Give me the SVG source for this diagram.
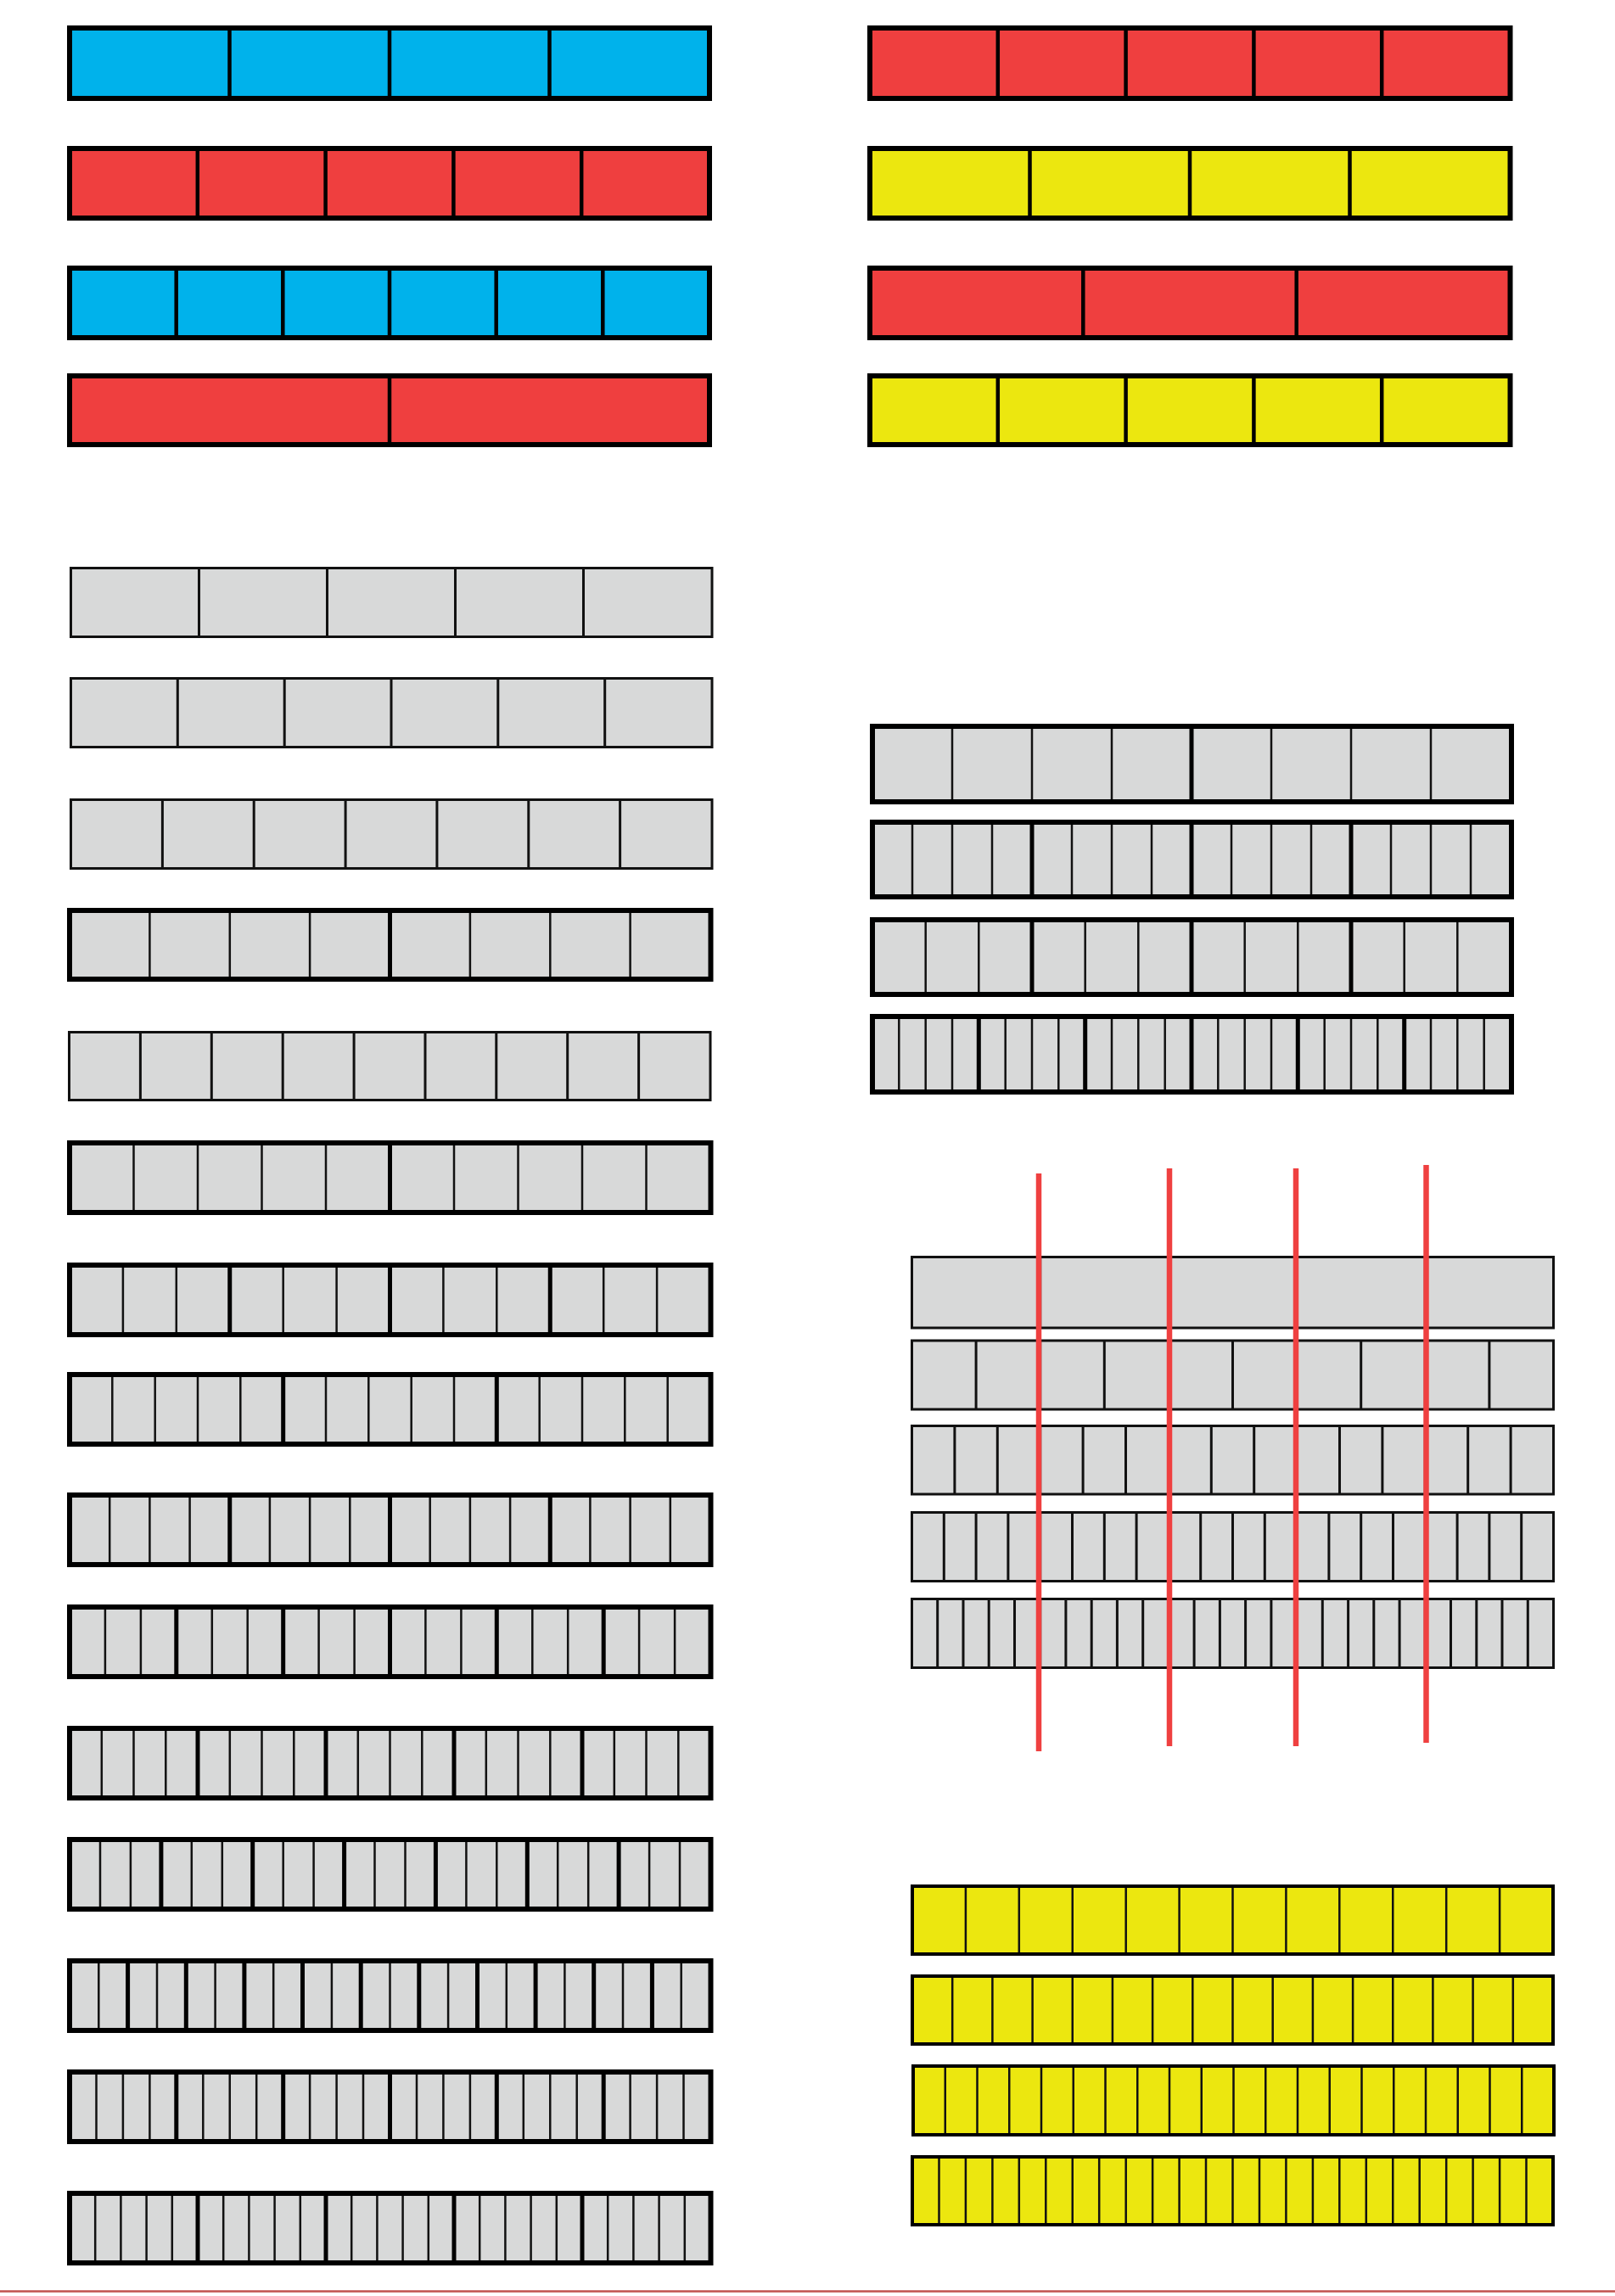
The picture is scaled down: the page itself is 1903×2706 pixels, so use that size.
<svg xmlns="http://www.w3.org/2000/svg" width="1903" height="2706" viewBox="0 0 1903 2706">
<style>
.blue{fill:#00B2EB}.red{fill:#EF3F3F}.yel{fill:#ECE70F}.gray{fill:#D8D9D9}
.bt{fill:none;stroke:#000;stroke-width:6}
.bn{fill:none;stroke:#111;stroke-width:3}
.by{fill:none;stroke:#000;stroke-width:4}
.dc{fill:none;stroke:#000;stroke-width:4.5}
.dt{fill:none;stroke:#111;stroke-width:2.5}
.dk{fill:none;stroke:#000;stroke-width:5}
.dn{fill:none;stroke:#111;stroke-width:3}
.rl{fill:none;stroke:#EF4040;stroke-width:6.5}
</style>
<rect width="1903" height="2706" fill="#fff"/>

<g id="c1"><rect class="blue" x="82" y="33" width="754" height="83"/><path class="dc" d="M270.5 33V116M459 33V116M647.5 33V116"/><rect class="bt" x="82" y="33" width="754" height="83"/></g>
<g id="c2"><rect class="red" x="82" y="175" width="754" height="82"/><path class="dc" d="M232.8 175V257M383.6 175V257M534.4 175V257M685.2 175V257"/><rect class="bt" x="82" y="175" width="754" height="82"/></g>
<g id="c3"><rect class="blue" x="82" y="316" width="754" height="82"/><path class="dc" d="M207.7 316V398M333.3 316V398M459 316V398M584.7 316V398M710.3 316V398"/><rect class="bt" x="82" y="316" width="754" height="82"/></g>
<g id="c4"><rect class="red" x="82" y="443" width="754" height="81"/><path class="dc" d="M459 443V524"/><rect class="bt" x="82" y="443" width="754" height="81"/></g>

<g id="d1"><rect class="red" x="1025" y="33" width="754.5" height="83"/><path class="dc" d="M1175.8 33V116M1326.6 33V116M1477.4 33V116M1628.2 33V116"/><rect class="bt" x="1025" y="33" width="754.5" height="83"/></g>
<g id="d2"><rect class="yel" x="1025" y="175" width="754.5" height="82"/><path class="dc" d="M1213.5 175V257M1402 175V257M1590.5 175V257"/><rect class="bt" x="1025" y="175" width="754.5" height="82"/></g>
<g id="d3"><rect class="red" x="1025" y="316" width="754.5" height="82"/><path class="dc" d="M1276.3 316V398M1527.7 316V398"/><rect class="bt" x="1025" y="316" width="754.5" height="82"/></g>
<g id="d4"><rect class="yel" x="1025" y="443" width="754.5" height="81"/><path class="dc" d="M1175.8 443V524M1326.6 443V524M1477.4 443V524M1628.2 443V524"/><rect class="bt" x="1025" y="443" width="754.5" height="81"/></g>

<g id="g1"><rect class="gray" x="83.5" y="669.5" width="755.5" height="81"/><path class="dn" d="M234.5 669.5V750.5M385.5 669.5V750.5M536.5 669.5V750.5M687.5 669.5V750.5"/><rect class="bn" x="83.5" y="669.5" width="755.5" height="81"/></g>
<g id="g2"><rect class="gray" x="83.5" y="799.5" width="755.5" height="81"/><path class="dn" d="M209.3 799.5V880.5M335.2 799.5V880.5M461 799.5V880.5M586.8 799.5V880.5M712.7 799.5V880.5"/><rect class="bn" x="83.5" y="799.5" width="755.5" height="81"/></g>
<g id="g3"><rect class="gray" x="83.5" y="942.5" width="755.5" height="81"/><path class="dn" d="M191.4 942.5V1023.5M299.2 942.5V1023.5M407.1 942.5V1023.5M514.9 942.5V1023.5M622.8 942.5V1023.5M730.6 942.5V1023.5"/><rect class="bn" x="83.5" y="942.5" width="755.5" height="81"/></g>
<g id="g4"><rect class="gray" x="82" y="1073" width="755.5" height="81"/><path class="dt" d="M176.4 1073V1154M270.8 1073V1154M365.1 1073V1154M553.9 1073V1154M648.3 1073V1154M742.6 1073V1154"/><path class="dk" d="M459.5 1073V1154"/><rect class="bt" x="82" y="1073" width="755.5" height="81"/></g>
<g id="g5"><rect class="gray" x="81.5" y="1216.5" width="755.5" height="80"/><path class="dn" d="M165.4 1216.5V1296.5M249.3 1216.5V1296.5M333.2 1216.5V1296.5M417.1 1216.5V1296.5M501 1216.5V1296.5M584.8 1216.5V1296.5M668.7 1216.5V1296.5M752.6 1216.5V1296.5"/><rect class="bn" x="81.5" y="1216.5" width="755.5" height="80"/></g>
<g id="g6"><rect class="gray" x="82" y="1347" width="755.5" height="82"/><path class="dt" d="M157.5 1347V1429M233 1347V1429M308.5 1347V1429M384 1347V1429M535 1347V1429M610.5 1347V1429M686 1347V1429M761.5 1347V1429"/><path class="dk" d="M459.5 1347V1429"/><rect class="bt" x="82" y="1347" width="755.5" height="82"/></g>
<g id="g7"><rect class="gray" x="82" y="1491" width="755.5" height="82"/><path class="dt" d="M144.9 1491V1573M207.8 1491V1573M333.7 1491V1573M396.6 1491V1573M522.4 1491V1573M585.3 1491V1573M711.2 1491V1573M774.1 1491V1573"/><path class="dk" d="M270.75 1491V1573M459.5 1491V1573M648.25 1491V1573"/><rect class="bt" x="82" y="1491" width="755.5" height="82"/></g>
<g id="g8"><rect class="gray" x="82" y="1620" width="755.5" height="82"/><path class="dt" d="M132.3 1620V1702M182.7 1620V1702M233 1620V1702M283.3 1620V1702M384 1620V1702M434.3 1620V1702M484.7 1620V1702M535 1620V1702M635.7 1620V1702M686 1620V1702M736.3 1620V1702M786.7 1620V1702"/><path class="dk" d="M333.7 1620V1702M585.3 1620V1702"/><rect class="bt" x="82" y="1620" width="755.5" height="82"/></g>
<g id="g9"><rect class="gray" x="82" y="1762" width="755.5" height="82"/><path class="dt" d="M129.2 1762V1844M176.4 1762V1844M223.6 1762V1844M317.9 1762V1844M365.1 1762V1844M412.3 1762V1844M506.7 1762V1844M553.9 1762V1844M601.1 1762V1844M695.4 1762V1844M742.6 1762V1844M789.8 1762V1844"/><path class="dk" d="M270.75 1762V1844M459.5 1762V1844M648.25 1762V1844"/><rect class="bt" x="82" y="1762" width="755.5" height="82"/></g>
<g id="g10"><rect class="gray" x="82" y="1894" width="755.5" height="82"/><path class="dt" d="M123.9 1894V1976M165.9 1894V1976M249.8 1894V1976M291.7 1894V1976M375.6 1894V1976M417.6 1894V1976M501.4 1894V1976M543.4 1894V1976M627.3 1894V1976M669.2 1894V1976M753.1 1894V1976M795.1 1894V1976"/><path class="dk" d="M207.8 1894V1976M333.7 1894V1976M459.5 1894V1976M585.3 1894V1976M711.2 1894V1976"/><rect class="bt" x="82" y="1894" width="755.5" height="82"/></g>
<g id="g11"><rect class="gray" x="82" y="2037" width="755.5" height="82"/><path class="dt" d="M119.8 2037V2119M157.5 2037V2119M195.3 2037V2119M270.8 2037V2119M308.5 2037V2119M346.3 2037V2119M421.8 2037V2119M459.5 2037V2119M497.3 2037V2119M572.8 2037V2119M610.5 2037V2119M648.3 2037V2119M723.8 2037V2119M761.5 2037V2119M799.3 2037V2119"/><path class="dk" d="M233 2037V2119M384 2037V2119M535 2037V2119M686 2037V2119"/><rect class="bt" x="82" y="2037" width="755.5" height="82"/></g>
<g id="g12"><rect class="gray" x="82" y="2168" width="755.5" height="82"/><path class="dt" d="M118 2168V2250M153.9 2168V2250M225.8 2168V2250M261.8 2168V2250M333.7 2168V2250M369.6 2168V2250M441.5 2168V2250M477.5 2168V2250M549.4 2168V2250M585.3 2168V2250M657.2 2168V2250M693.2 2168V2250M765.1 2168V2250M801 2168V2250"/><path class="dk" d="M189.9 2168V2250M297.7 2168V2250M405.6 2168V2250M513.4 2168V2250M621.3 2168V2250M729.1 2168V2250"/><rect class="bt" x="82" y="2168" width="755.5" height="82"/></g>
<g id="g13"><rect class="gray" x="82" y="2311" width="755.5" height="82"/><path class="dt" d="M116.3 2311V2393M185 2311V2393M253.6 2311V2393M322.2 2311V2393M390.9 2311V2393M459.5 2311V2393M528.1 2311V2393M596.8 2311V2393M665.4 2311V2393M734 2311V2393M802.7 2311V2393"/><path class="dk" d="M150.6 2311V2393M219.3 2311V2393M287.9 2311V2393M356.5 2311V2393M425.2 2311V2393M493.8 2311V2393M562.5 2311V2393M631.1 2311V2393M699.7 2311V2393M768.4 2311V2393"/><rect class="bt" x="82" y="2311" width="755.5" height="82"/></g>
<g id="g14"><rect class="gray" x="82" y="2442" width="755.5" height="82"/><path class="dt" d="M113.5 2442V2524M144.9 2442V2524M176.4 2442V2524M239.3 2442V2524M270.75 2442V2524M302.2 2442V2524M365.1 2442V2524M396.6 2442V2524M428 2442V2524M491 2442V2524M522.4 2442V2524M553.9 2442V2524M616.8 2442V2524M648.25 2442V2524M679.7 2442V2524M742.6 2442V2524M774.1 2442V2524M805.5 2442V2524"/><path class="dk" d="M207.8 2442V2524M333.7 2442V2524M459.5 2442V2524M585.3 2442V2524M711.2 2442V2524"/><rect class="bt" x="82" y="2442" width="755.5" height="82"/></g>
<g id="g15"><rect class="gray" x="82" y="2585" width="755.5" height="82"/><path class="dt" d="M112.2 2585V2667M142.4 2585V2667M172.6 2585V2667M202.8 2585V2667M263.2 2585V2667M293.4 2585V2667M323.6 2585V2667M353.8 2585V2667M414.2 2585V2667M444.4 2585V2667M474.6 2585V2667M504.8 2585V2667M565.2 2585V2667M595.4 2585V2667M625.6 2585V2667M655.8 2585V2667M716.2 2585V2667M746.4 2585V2667M776.6 2585V2667M806.8 2585V2667"/><path class="dk" d="M233 2585V2667M384 2585V2667M535 2585V2667M686 2585V2667"/><rect class="bt" x="82" y="2585" width="755.5" height="82"/></g>

<g id="r1"><rect class="gray" x="1028" y="856" width="753" height="89"/><path class="dt" d="M1122 856V945M1216 856V945M1310 856V945M1498 856V945M1592 856V945M1686 856V945"/><path class="dk" d="M1404 856V945"/><rect class="bt" x="1028" y="856" width="753" height="89"/></g>
<g id="r2"><rect class="gray" x="1028" y="969" width="753" height="88"/><path class="dt" d="M1075 969V1057M1122 969V1057M1169 969V1057M1263 969V1057M1310 969V1057M1357 969V1057M1451 969V1057M1498 969V1057M1545 969V1057M1639 969V1057M1686 969V1057M1733 969V1057"/><path class="dk" d="M1216 969V1057M1404 969V1057M1592 969V1057"/><rect class="bt" x="1028" y="969" width="753" height="88"/></g>
<g id="r3"><rect class="gray" x="1028" y="1084" width="753" height="88"/><path class="dt" d="M1090.7 1084V1172M1153.3 1084V1172M1278.7 1084V1172M1341.3 1084V1172M1466.7 1084V1172M1529.3 1084V1172M1654.7 1084V1172M1717.3 1084V1172"/><path class="dk" d="M1216 1084V1172M1404 1084V1172M1592 1084V1172"/><rect class="bt" x="1028" y="1084" width="753" height="88"/></g>
<g id="r4"><rect class="gray" x="1028" y="1198" width="753" height="89"/><path class="dt" d="M1059.3 1198V1287M1090.7 1198V1287M1122 1198V1287M1184.7 1198V1287M1216 1198V1287M1247.3 1198V1287M1310 1198V1287M1341.3 1198V1287M1372.7 1198V1287M1435.3 1198V1287M1466.7 1198V1287M1498 1198V1287M1560.7 1198V1287M1592 1198V1287M1623.3 1198V1287M1686 1198V1287M1717.3 1198V1287M1748.7 1198V1287"/><path class="dk" d="M1153.3 1198V1287M1278.7 1198V1287M1404 1198V1287M1529.3 1198V1287M1654.7 1198V1287"/><rect class="bt" x="1028" y="1198" width="753" height="89"/></g>

<g id="f1"><rect class="gray" x="1074.5" y="1481.5" width="756" height="83.5"/><path class="dn" d="M1225.7 1481.5V1565M1376.9 1481.5V1565M1528.1 1481.5V1565M1679.3 1481.5V1565"/><rect class="bn" x="1074.5" y="1481.5" width="756" height="83.5"/></g>
<g id="f2"><rect class="gray" x="1074.5" y="1580" width="756" height="81"/><path class="dn" d="M1150.1 1580V1661M1225.7 1580V1661M1301.3 1580V1661M1376.9 1580V1661M1452.5 1580V1661M1528.1 1580V1661M1603.7 1580V1661M1679.3 1580V1661M1754.9 1580V1661"/><rect class="bn" x="1074.5" y="1580" width="756" height="81"/></g>
<g id="f3"><rect class="gray" x="1074.5" y="1680.5" width="756" height="80.5"/><path class="dn" d="M1124.9 1680.5V1761M1175.3 1680.5V1761M1225.7 1680.5V1761M1276.1 1680.5V1761M1326.5 1680.5V1761M1376.9 1680.5V1761M1427.3 1680.5V1761M1477.7 1680.5V1761M1528.1 1680.5V1761M1578.5 1680.5V1761M1628.9 1680.5V1761M1679.3 1680.5V1761M1729.7 1680.5V1761M1780.1 1680.5V1761"/><rect class="bn" x="1074.5" y="1680.5" width="756" height="80.5"/></g>
<g id="f4"><rect class="gray" x="1074.5" y="1782.5" width="756" height="81"/><path class="dn" d="M1112.3 1782.5V1863.5M1150.1 1782.5V1863.5M1187.9 1782.5V1863.5M1225.7 1782.5V1863.5M1263.5 1782.5V1863.5M1301.3 1782.5V1863.5M1339.1 1782.5V1863.5M1376.9 1782.5V1863.5M1414.7 1782.5V1863.5M1452.5 1782.5V1863.5M1490.3 1782.5V1863.5M1528.1 1782.5V1863.5M1565.9 1782.5V1863.5M1603.7 1782.5V1863.5M1641.5 1782.5V1863.5M1679.3 1782.5V1863.5M1717.1 1782.5V1863.5M1754.9 1782.5V1863.5M1792.7 1782.5V1863.5"/><rect class="bn" x="1074.5" y="1782.5" width="756" height="81"/></g>
<g id="f5"><rect class="gray" x="1074.5" y="1884.5" width="756" height="81"/><path class="dn" d="M1104.7 1884.5V1965.5M1135 1884.5V1965.5M1165.2 1884.5V1965.5M1195.5 1884.5V1965.5M1225.7 1884.5V1965.5M1255.9 1884.5V1965.5M1286.2 1884.5V1965.5M1316.4 1884.5V1965.5M1346.7 1884.5V1965.5M1376.9 1884.5V1965.5M1407.1 1884.5V1965.5M1437.4 1884.5V1965.5M1467.6 1884.5V1965.5M1497.9 1884.5V1965.5M1528.1 1884.5V1965.5M1558.3 1884.5V1965.5M1588.6 1884.5V1965.5M1618.8 1884.5V1965.5M1649.1 1884.5V1965.5M1679.3 1884.5V1965.5M1709.5 1884.5V1965.5M1739.8 1884.5V1965.5M1770 1884.5V1965.5M1800.3 1884.5V1965.5"/><rect class="bn" x="1074.5" y="1884.5" width="756" height="81"/></g>

<g id="red-lines">
<path class="rl" d="M1224 1383V2064"/>
<path class="rl" d="M1378 1377V2058"/>
<path class="rl" d="M1527 1377V2058"/>
<path class="rl" d="M1680.5 1373V2054"/>
</g>

<g id="y1"><rect class="yel" x="1075" y="2223" width="755" height="80"/><path class="dt" d="M1137.9 2223V2303M1200.8 2223V2303M1263.75 2223V2303M1326.7 2223V2303M1389.6 2223V2303M1452.5 2223V2303M1515.4 2223V2303M1578.3 2223V2303M1641.25 2223V2303M1704.2 2223V2303M1767.1 2223V2303"/><rect class="by" x="1075" y="2223" width="755" height="80"/></g>
<g id="y2"><rect class="yel" x="1075" y="2329" width="755" height="80"/><path class="dt" d="M1122.2 2329V2409M1169.4 2329V2409M1216.6 2329V2409M1263.75 2329V2409M1310.9 2329V2409M1358.1 2329V2409M1405.3 2329V2409M1452.5 2329V2409M1499.7 2329V2409M1546.9 2329V2409M1594.1 2329V2409M1641.25 2329V2409M1688.4 2329V2409M1735.6 2329V2409M1782.8 2329V2409"/><rect class="by" x="1075" y="2329" width="755" height="80"/></g>
<g id="y3"><rect class="yel" x="1076" y="2435" width="755" height="81"/><path class="dt" d="M1113.75 2435V2516M1151.5 2435V2516M1189.25 2435V2516M1227 2435V2516M1264.75 2435V2516M1302.5 2435V2516M1340.25 2435V2516M1378 2435V2516M1415.75 2435V2516M1453.5 2435V2516M1491.25 2435V2516M1529 2435V2516M1566.75 2435V2516M1604.5 2435V2516M1642.25 2435V2516M1680 2435V2516M1717.75 2435V2516M1755.5 2435V2516M1793.25 2435V2516"/><rect class="by" x="1076" y="2435" width="755" height="81"/></g>
<g id="y4"><rect class="yel" x="1075" y="2542" width="755" height="80"/><path class="dt" d="M1106.5 2542V2622M1137.9 2542V2622M1169.4 2542V2622M1200.8 2542V2622M1232.3 2542V2622M1263.75 2542V2622M1295.2 2542V2622M1326.7 2542V2622M1358.1 2542V2622M1389.6 2542V2622M1421 2542V2622M1452.5 2542V2622M1484 2542V2622M1515.4 2542V2622M1546.9 2542V2622M1578.3 2542V2622M1609.8 2542V2622M1641.25 2542V2622M1672.7 2542V2622M1704.2 2542V2622M1735.6 2542V2622M1767.1 2542V2622M1798.5 2542V2622"/><rect class="by" x="1075" y="2542" width="755" height="80"/></g>

<g id="bottom-line"><path d="M0 2700.5H1903" fill="none" stroke="#C0504D" stroke-width="2.5"/></g>
</svg>
